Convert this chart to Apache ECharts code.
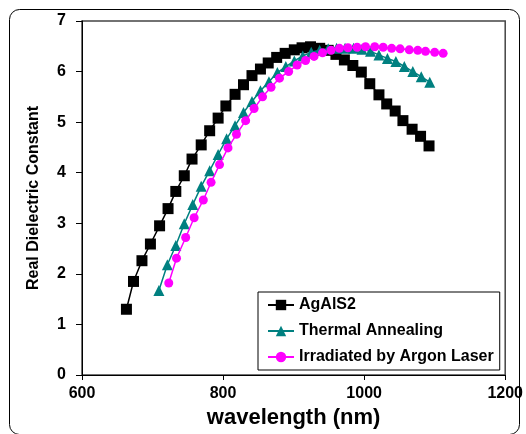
<!DOCTYPE html>
<html><head><meta charset="utf-8">
<script src="https://cdn.jsdelivr.net/npm/echarts@6/dist/echarts.min.js"></script>
<style>html,body{margin:0;padding:0;background:#fff}#c{width:526px;height:434px}</style>
</head><body><div id="c"></div>
<script>
// Data
const seriesNames = ['AgAlS2', 'Thermal Annealing', 'Irradiated by Argon Laser'];

const wlAg = [663, 673, 685, 697, 710, 722, 733, 745, 756, 769, 781, 793, 804, 817, 829, 841, 853, 864, 876, 888, 901, 912, 924, 937, 949, 960, 972, 984, 996, 1008, 1021, 1032, 1044, 1055, 1068, 1080, 1092];
const valAg = [1.30, 1.85, 2.26, 2.59, 2.95, 3.29, 3.63, 3.94, 4.27, 4.55, 4.83, 5.08, 5.32, 5.55, 5.74, 5.92, 6.05, 6.17, 6.28, 6.36, 6.43, 6.47, 6.49, 6.46, 6.42, 6.34, 6.23, 6.12, 5.99, 5.76, 5.54, 5.36, 5.22, 5.03, 4.86, 4.72, 4.53];

const wlTA = [709, 721, 733, 745, 757, 769, 781, 793, 805, 817, 829, 841, 853, 865, 877, 889, 901, 913, 925, 937, 949, 961, 973, 985, 997, 1009, 1021, 1033, 1045, 1057, 1069, 1081, 1093];
const valTA = [1.67, 2.18, 2.56, 2.99, 3.37, 3.73, 4.04, 4.36, 4.67, 4.93, 5.19, 5.41, 5.62, 5.80, 5.98, 6.10, 6.21, 6.31, 6.38, 6.42, 6.45, 6.46, 6.46, 6.46, 6.44, 6.40, 6.33, 6.26, 6.20, 6.10, 6.00, 5.90, 5.79];

const wlAr = [723, 734, 747, 759, 772, 783, 795, 807, 819, 832, 844, 856, 868, 880, 893, 905, 917, 929, 941, 953, 965, 977, 990, 1002, 1015, 1027, 1039, 1051, 1064, 1076, 1087, 1100, 1112];
const valAr = [1.82, 2.31, 2.72, 3.11, 3.46, 3.81, 4.16, 4.49, 4.76, 5.03, 5.27, 5.50, 5.69, 5.87, 6.00, 6.13, 6.22, 6.30, 6.37, 6.42, 6.46, 6.47, 6.48, 6.49, 6.49, 6.48, 6.46, 6.45, 6.43, 6.42, 6.40, 6.38, 6.36];

const xTicks = [600, 800, 1000, 1200];
const yTicks = [0, 1, 2, 3, 4, 5, 6, 7];

const FONT = '"Liberation Sans", Arial, sans-serif';
const pair = (xs, ys) => xs.map((x, i) => [x, ys[i]]);

const chart = echarts.init(document.getElementById('c'), null, {renderer: 'canvas'});
chart.setOption({
  animation: false,
  backgroundColor: '#ffffff',
  textStyle: {fontFamily: FONT},
  graphic: [{
    type: 'rect', left: 7, top: 7, z: -10, silent: true,
    shape: {width: 510, height: 425, r: 10},
    style: {fill: 'none', stroke: '#000', lineWidth: 1}
  }],
  grid: {left: 82, right: 18, top: 21, bottom: 59, show: true, borderColor: '#444', borderWidth: 1.5, backgroundColor: 'transparent'},
  legend: {
    orient: 'vertical', left: 258, top: 292,
    backgroundColor: '#fff', borderColor: '#000', borderWidth: 1, borderRadius: 0,
    padding: [5, 6, 5, 9], itemGap: 10, itemWidth: 26, itemHeight: 13,
    textStyle: {fontFamily: FONT, fontWeight: 'bold', fontSize: 16, color: '#000'},
    data: seriesNames
  },
  xAxis: {
    type: 'value', min: xTicks[0], max: xTicks[xTicks.length - 1], interval: 200,
    name: 'wavelength (nm)', nameLocation: 'middle', nameGap: 26,
    nameTextStyle: {fontFamily: FONT, fontWeight: 'bold', fontSize: 22, color: '#000'},
    axisLine: {show: true, onZero: false, lineStyle: {color: '#000', width: 1}},
    axisTick: {show: true, inside: false, length: 5, lineStyle: {color: '#000'}},
    axisLabel: {fontFamily: FONT, fontWeight: 'bold', fontSize: 16, color: '#000', margin: 11,
                formatter: v => String(v)},
    splitLine: {show: false}
  },
  yAxis: {
    type: 'value', min: yTicks[0], max: yTicks[yTicks.length - 1], interval: 1,
    name: 'Real Dielectric Constant', nameLocation: 'middle', nameGap: 40, nameRotate: 90,
    nameTextStyle: {fontFamily: FONT, fontWeight: 'bold', fontSize: 16, color: '#000'},
    axisLine: {show: true, lineStyle: {color: '#000', width: 1}},
    axisTick: {show: true, inside: false, length: 6, lineStyle: {color: '#000'}},
    axisLabel: {fontFamily: FONT, fontWeight: 'bold', fontSize: 16, color: '#000', margin: 16},
    splitLine: {show: false}
  },
  series: [
    {name: seriesNames[0], type: 'line', data: pair(wlAg, valAg), symbol: 'rect', symbolSize: 11,
     lineStyle: {color: '#000', width: 1.5}, itemStyle: {color: '#000'}, z: 3},
    {name: seriesNames[1], type: 'line', data: pair(wlTA, valTA), symbol: 'triangle', symbolSize: 11,
     lineStyle: {color: '#008080', width: 1.5}, itemStyle: {color: '#008080'}, z: 4},
    {name: seriesNames[2], type: 'line', data: pair(wlAr, valAr), symbol: 'circle', symbolSize: 9,
     lineStyle: {color: '#ff00ff', width: 1.5}, itemStyle: {color: '#ff00ff'}, z: 5}
  ]
});
</script></body></html>
